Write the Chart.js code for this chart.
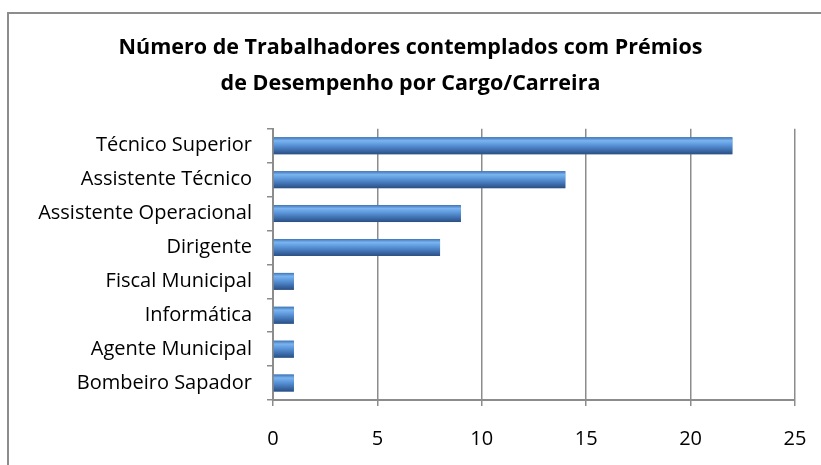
<!DOCTYPE html>
<html>
<head>
<meta charset="utf-8">
<script src="https://cdn.jsdelivr.net/npm/chart.js@4.4.0/dist/chart.umd.min.js"></script>
<style>
  body { margin: 0; background: #fff; overflow: hidden; }
  .frame { position: absolute; left: 7px; top: 12px; width: 900px; height: 600px;
           border-left: 2px solid #8c8c8c; border-top: 2px solid #8c8c8c; }
  .wrap { position: absolute; left: 0; top: 0; width: 821px; height: 472px; }
</style>
</head>
<body>
<div class="frame"></div>
<div class="wrap"><canvas id="cargo-chart"></canvas></div>
<script>
// Dados do gráfico
const cargos = ['Técnico Superior', 'Assistente Técnico', 'Assistente Operacional', 'Dirigente',
                'Fiscal Municipal', 'Informática', 'Agente Municipal', 'Bombeiro Sapador'];
const trabalhadores = [22, 14, 9, 8, 1, 1, 1, 1];
const tituloLinhas = ['Número de Trabalhadores contemplados com Prémios', 'de Desempenho por Cargo/Carreira'];

const FONTE = "'Open Sans', 'Noto Sans', sans-serif";

// Pinta as barras com gradiente (efeito cilindro do Excel)
const barrasGradiente = {
    id: 'barrasGradiente',
    afterDatasetsDraw(chart) {
        const ctx = chart.ctx;
        chart.getDatasetMeta(0).data.forEach(bar => {
            const top = bar.y - bar.height / 2;
            const g = ctx.createLinearGradient(0, top, 0, top + bar.height);
            g.addColorStop(0, '#3f74b6');
            g.addColorStop(0.2, '#7ab4f0');
            g.addColorStop(0.45, '#5b96da');
            g.addColorStop(0.8, '#3a68a6');
            g.addColorStop(1, '#2b4f80');
            ctx.save();
            ctx.fillStyle = g;
            ctx.fillRect(bar.base, top, bar.x - bar.base, bar.height);
            ctx.restore();
        });
    }
};

new Chart(document.getElementById('cargo-chart'), {
    type: 'bar',
    data: {
        labels: cargos,
        datasets: [{
            data: trabalhadores,
            backgroundColor: '#4f81bd',
            barPercentage: 0.5,
            categoryPercentage: 1
        }]
    },
    options: {
        indexAxis: 'y',
        responsive: true,
        maintainAspectRatio: false,
        animation: false,
        layout: { padding: { left: 26, right: 26, top: 30, bottom: 0 } },
        plugins: {
            legend: { display: false },
            tooltip: { enabled: false },
            title: {
                display: true,
                text: tituloLinhas,
                color: '#000',
                font: { family: FONTE, size: 21.5, weight: 'bold', lineHeight: 1.67 },
                padding: { top: 0, bottom: 27 }
            }
        },
        scales: {
            x: {
                min: 0,
                max: 25,
                ticks: { stepSize: 5, color: '#000', font: { family: FONTE, size: 20, lineHeight: 2.4 }, padding: 9 },
                grid: { color: '#8c8c8c', lineWidth: 1.5, tickLength: 6 },
                border: { color: '#8c8c8c', width: 2 }
            },
            y: {
                afterFit(scale) { scale.width = 247; },
                ticks: { color: '#000', font: { family: FONTE, size: 20 }, padding: 15 },
                grid: { offset: true, drawOnChartArea: false, color: '#8c8c8c', lineWidth: 1.5, tickLength: 6 },
                border: { color: '#8c8c8c', width: 2 }
            }
        }
    },
    plugins: [barrasGradiente]
});
</script>
</body>
</html>
